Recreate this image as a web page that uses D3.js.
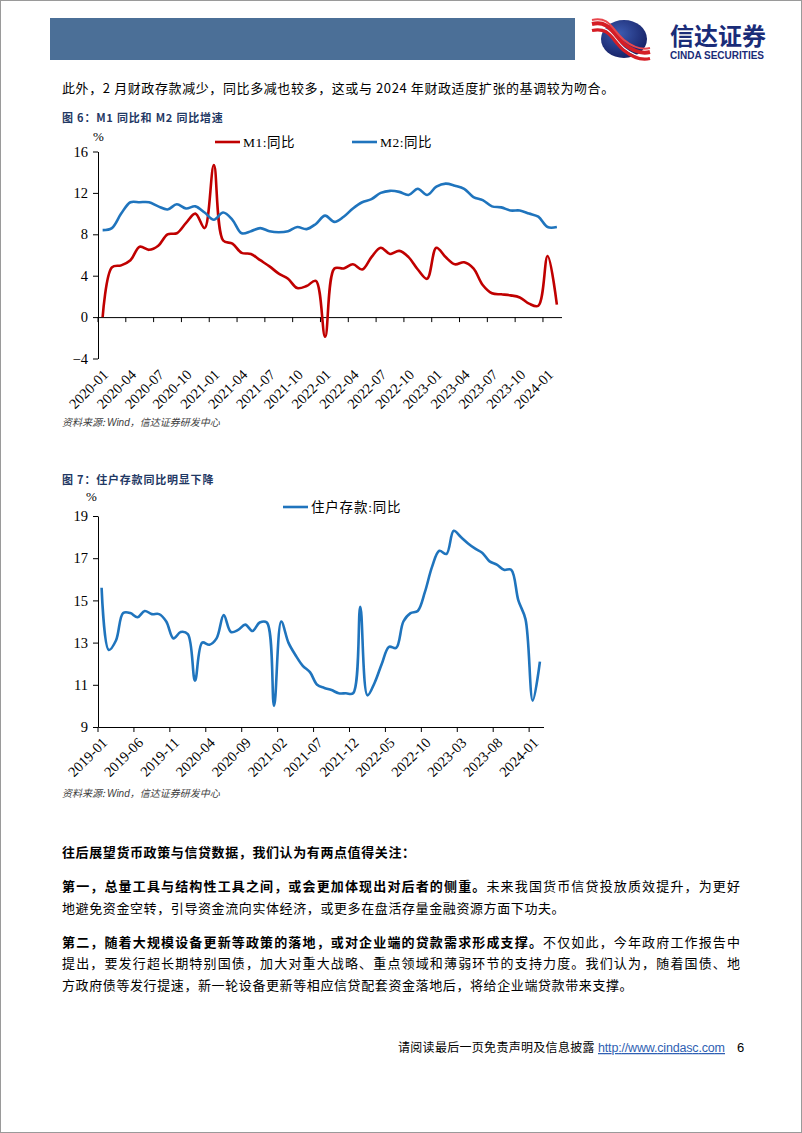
<!DOCTYPE html>
<html><head><meta charset="utf-8">
<script src="https://cdn.jsdelivr.net/npm/d3@7/dist/d3.min.js"></script>
<style>
html,body{margin:0;padding:0;background:#fff;}
svg{display:block;}
</style></head>
<body>
<svg id="page" width="802" height="1133"></svg>
<script>
// ---------------- DATA ----------------
const months1Start = [2020, 1], months1End = [2024, 2];
const months2Start = [2019, 1], months2End = [2024, 2];
const m1Yoy = [0.0, 4.8, 5.0, 5.5, 6.8, 6.5, 6.9, 8.0, 8.1, 9.1, 10.0, 8.6,
  14.7, 7.4, 7.1, 6.2, 6.1, 5.5, 4.9, 4.2, 3.7, 2.8, 3.0, 3.5,
  -1.9, 4.7, 4.7, 5.1, 4.6, 5.8, 6.7, 6.1, 6.4, 5.8, 4.6, 3.7,
  6.7, 5.8, 5.1, 5.3, 4.7, 3.1, 2.3, 2.2, 2.1, 1.9, 1.3, 1.1,
  5.9, 1.2];
const m2Yoy = [8.4, 8.6, 10.0, 11.1, 11.1, 11.1, 10.7, 10.4, 10.9, 10.5, 10.7, 10.1,
  9.4, 10.1, 9.4, 8.1, 8.3, 8.6, 8.3, 8.2, 8.3, 8.7, 8.5, 9.0,
  9.8, 9.2, 9.7, 10.5, 11.1, 11.4, 12.0, 12.2, 12.1, 11.8, 12.4, 11.8,
  12.6, 12.9, 12.7, 12.4, 11.6, 11.3, 10.7, 10.6, 10.3, 10.3, 10.0, 9.7,
  8.7, 8.7];
const householdYoy = [15.6, 12.65, 13.1, 14.4, 14.4, 14.2, 14.5, 14.35, 14.35, 14.0, 13.2, 13.5,
  13.4, 11.2, 13.0, 12.9, 13.2, 14.3, 13.5, 13.6, 13.85, 13.55, 13.95, 13.95,
  10.0, 14.0, 13.0, 12.4, 11.9, 11.6, 11.0, 10.85, 10.75, 10.6, 10.6, 10.6,
  14.7, 10.5, 11.1, 12.0, 12.8, 12.75, 14.0, 14.4, 14.5, 15.4, 16.6, 17.35,
  17.2, 18.3, 18.0, 17.7, 17.45, 17.25, 16.85, 16.7, 16.45, 16.45, 15.0, 14.1,
  10.25, 12.1];
const xTicks1 = ["2020-01","2020-04","2020-07","2020-10","2021-01","2021-04","2021-07","2021-10",
  "2022-01","2022-04","2022-07","2022-10","2023-01","2023-04","2023-07","2023-10","2024-01"];
const xTicks2 = ["2019-01","2019-06","2019-11","2020-04","2020-09","2021-02","2021-07","2021-12",
  "2022-05","2022-10","2023-03","2023-08","2024-01"];
const yTicks1 = [-4, 0, 4, 8, 12, 16];
const yTicks2 = [9, 11, 13, 15, 17, 19];
const seriesNames1 = ["M1:同比", "M2:同比"];
const seriesNames2 = ["住户存款:同比"];

function monthList(s, e) {
  const out = []; let y = s[0], m = s[1];
  while (y < e[0] || (y === e[0] && m <= e[1])) {
    out.push(y + "-" + String(m).padStart(2, "0"));
    m++; if (m > 12) { m = 1; y++; }
  }
  return out;
}
const months1 = monthList(months1Start, months1End);
const months2 = monthList(months2Start, months2End);

// ---------------- PAGE ----------------
const svg = d3.select("#page");
svg.append("rect").attr("x",0.5).attr("y",0.5).attr("width",801).attr("height",1132)
  .attr("fill","#fff").attr("stroke","#9a9a9a");

// header bar
svg.append("rect").attr("x",50).attr("y",18).attr("width",525).attr("height",42).attr("fill","#4b6f97");
// logo
const logo = svg.append("g");
const grad = svg.append("defs").append("radialGradient").attr("id","lg").attr("cx","40%").attr("cy","35%").attr("r","70%");
grad.append("stop").attr("offset","0%").attr("stop-color","#3d5bb0");
grad.append("stop").attr("offset","100%").attr("stop-color","#141f63");
logo.append("ellipse").attr("cx",624).attr("cy",39).attr("rx",23).attr("ry",19).attr("fill","url(#lg)");
const sw = (dy, col, w) => logo.append("path")
  .attr("d", `M592,${24+dy} C610,${20+dy} 612,${34+dy} 624,${44+dy} C634,${52+dy} 642,${54+dy} 650,${52+dy}`)
  .attr("fill","none").attr("stroke",col).attr("stroke-width",w);
sw(0,"#d51d25",4); sw(4,"#fff",1.5); sw(6.5,"#d51d25",3.2); sw(-4,"#e8474d",2);
svg.append("text").attr("x",718).attr("y",45).attr("text-anchor","middle")
  .attr("font-family","'Noto Sans CJK SC'").attr("font-weight","bold").attr("font-size",24)
  .attr("fill","#1a2c78").text("信达证券");
svg.append("text").attr("x",717).attr("y",59).attr("text-anchor","middle")
  .attr("font-family","'Liberation Sans'").attr("font-weight","bold").attr("font-size",10)
  .attr("fill","#1a2c78").text("CINDA SECURITIES");

const cjk = "'Noto Sans CJK SC'";
const serif = "'Liberation Serif', 'Noto Sans CJK SC'";

function bodyLine(x, y, parts, justifyWidth) {
  const t = svg.append("text").attr("x",x).attr("y",y).attr("font-family",cjk)
    .attr("font-size",13).attr("fill","#000");
  parts.forEach(p => t.append("tspan").attr("font-weight", p.b ? "bold" : "normal").text(p.t));
  const n = parts.map(p=>p.t).join("").length;
  const natural = t.node().getComputedTextLength();
  if (justifyWidth) {
    t.attr("letter-spacing", ((justifyWidth - natural) / (n - 1)) + "px");
  } else {
    t.attr("letter-spacing", "0.6px");
  }
  return t;
}

bodyLine(62, 93, [{t:"此外，2 月财政存款减少，同比多减也较多，这或与 2024 年财政适度扩张的基调较为吻合。"}]);

function title(y, txt) {
  svg.append("text").attr("x",62).attr("y",y).attr("font-family",cjk).attr("font-weight","bold")
    .attr("font-size",11).attr("fill","#1f3864").attr("letter-spacing","0.8px").text(txt);
}
function source(y) {
  svg.append("text").attr("x",62).attr("y",y).attr("font-family",cjk).attr("font-style","italic")
    .attr("font-size",10).attr("fill","#404040")
    .text("资料来源: ").append("tspan").attr("font-family","'Liberation Sans'").text("Wind")
    .select(function(){return this.parentNode;}).append("tspan").text("，信达证券研发中心");
}

// ---------------- CHART helper ----------------
function chart(opts) {
  const g = svg.append("g");
  const x = d3.scaleBand().domain(opts.months).range([opts.x0, opts.x1]).paddingInner(0).paddingOuter(0);
  const bw = x.bandwidth();
  const y = d3.scaleLinear().domain(opts.yDomain).range([opts.yBottom, opts.yTop]);
  const cx = d => x(d) + bw / 2;

  // y axis
  const ya = g.append("g").attr("transform",`translate(${opts.x0},0)`)
    .call(d3.axisLeft(y).tickValues(opts.yTicks).tickSize(5).tickSizeOuter(0).tickFormat(d3.format("d")));
  ya.select(".domain").attr("stroke","#000");
  ya.selectAll(".tick line").attr("stroke","#000");
  ya.selectAll(".tick text").attr("font-family",serif).attr("font-size",14.5).attr("fill","#000").attr("x",-10);

  // x axis at baseline value
  const axY = y(opts.xAxisAt);
  const xa = g.append("g").attr("transform",`translate(0,${axY})`)
    .call(d3.axisBottom(x).tickValues(opts.tickMonths).tickSize(5).tickSizeOuter(0).tickFormat(""));
  xa.select(".domain").attr("stroke","#000");
  xa.selectAll(".tick line").attr("stroke","#000").attr("transform",`translate(${-bw/2},0)`);
  // labels at bottom
  opts.tickMonths.forEach(m => {
    g.append("text").attr("transform",`translate(${cx(m)+3},${opts.labelY}) rotate(-45)`)
      .attr("text-anchor","end").attr("dy","0.35em")
      .attr("font-family",serif).attr("font-size",14.5).attr("fill","#000").text(m);
  });
  // unit
  g.append("text").attr("x",opts.unitX).attr("y",opts.unitY).attr("font-family",serif)
    .attr("font-size",13).attr("fill","#000").text("%");

  // lines
  opts.series.forEach((s, i) => {
    const line = d3.line().x((d,j)=>cx(opts.months[j])).y(d=>y(d)).curve(d3.curveCatmullRom.alpha(0.5));
    g.append("path").datum(s.values).attr("d",line).attr("fill","none")
      .attr("stroke",s.color).attr("stroke-width",2.6).attr("stroke-linejoin","round");
    // legend
    const lx = s.legendX, ly = opts.legendY;
    g.append("line").attr("x1",lx).attr("x2",lx+25).attr("y1",ly).attr("y2",ly)
      .attr("stroke",s.color).attr("stroke-width",2.6);
    g.append("text").attr("x",lx+28).attr("y",ly+4.5).attr("font-family",serif)
      .attr("font-size",13.5).attr("fill","#000").attr("letter-spacing",s.ls||"0px").text(s.name);
  });
}

title(122, "图 6：M1 同比和 M2 同比增速");
chart({
  months: months1, x0: 98, x1: 561.5, yDomain: [-4, 16], yBottom: 358.5, yTop: 151.5,
  yTicks: yTicks1, xAxisAt: 0, tickMonths: xTicks1, labelY: 372,
  unitX: 93, unitY: 141, legendY: 142,
  series: [
    {name: seriesNames1[0], values: m1Yoy, color: "#c00000", legendX: 215, ls: "0.5px"},
    {name: seriesNames1[1], values: m2Yoy, color: "#1f74bd", legendX: 352, ls: "0.5px"}
  ]
});
source(426);

title(484, "图 7：住户存款同比明显下降");
chart({
  months: months2, x0: 98, x1: 543.5, yDomain: [9, 19], yBottom: 727, yTop: 516,
  yTicks: yTicks2, xAxisAt: 9, tickMonths: xTicks2, labelY: 740,
  unitX: 86, unitY: 501, legendY: 507,
  series: [
    {name: seriesNames2[0], values: householdYoy, color: "#1f74bd", legendX: 283, ls: "0.8px"}
  ]
});
source(797);

// ---------------- BODY TEXT ----------------
bodyLine(62, 857, [{t:"往后展望货币政策与信贷数据，我们认为有两点值得关注：", b:true}]);
bodyLine(62, 891, [{t:"第一，总量工具与结构性工具之间，或会更加体现出对后者的侧重。", b:true},{t:"未来我国货币信贷投放质效提升，为更好"}], 678);
bodyLine(62, 913, [{t:"地避免资金空转，引导资金流向实体经济，或更多在盘活存量金融资源方面下功夫。"}]);
bodyLine(62, 947, [{t:"第二，随着大规模设备更新等政策的落地，或对企业端的贷款需求形成支撑。", b:true},{t:"不仅如此，今年政府工作报告中"}], 678);
bodyLine(62, 968, [{t:"提出，要发行超长期特别国债，加大对重大战略、重点领域和薄弱环节的支持力度。我们认为，随着国债、地"}], 678);
bodyLine(62, 990, [{t:"方政府债等发行提速，新一轮设备更新等相应信贷配套资金落地后，将给企业端贷款带来支撑。"}]);

// ---------------- FOOTER ----------------
svg.append("text").attr("x",398).attr("y",1052).attr("font-family",cjk).attr("font-size",12)
  .attr("fill","#000").attr("letter-spacing","0.3px").text("请阅读最后一页免责声明及信息披露");
svg.append("text").attr("x",598).attr("y",1052).attr("font-family","'Liberation Sans'").attr("font-size",12.5)
  .attr("fill","#2f5fb3").attr("text-decoration","underline").attr("textLength",127).text("http://www.cindasc.com");
svg.append("text").attr("x",737).attr("y",1052).attr("font-family","'Liberation Sans'").attr("font-size",13)
  .attr("fill","#000").text("6");
</script>
</body></html>
